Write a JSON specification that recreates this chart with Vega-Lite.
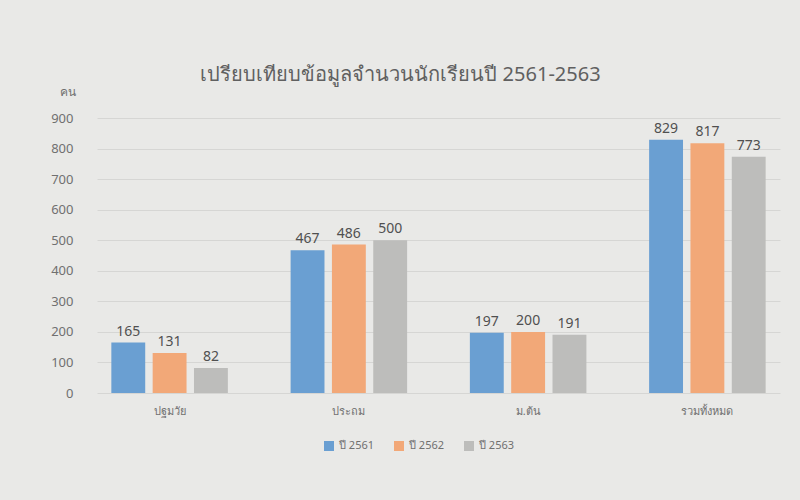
{
  "$schema": "https://vega.github.io/schema/vega-lite/v6.json",
  "width": 683,
  "height": 275,
  "autosize": "none",
  "padding": {"left": 97, "right": 20, "top": 118, "bottom": 107},
  "background": "#e9e9e7",
  "title": {
    "text": "เปรียบเทียบข้อมูลจำนวนนักเรียนปี 2561-2563",
    "font": "Noto Sans",
    "fontSize": 20,
    "fontWeight": "normal",
    "color": "#606060",
    "anchor": "middle",
    "dx": -38,
    "offset": 0
  },
  "config": {
    "view": {"stroke": null},
    "font": "Noto Sans"
  },
  "data": {
    "values": [
      {"level": "ปฐมวัย", "year": "ปี 2561", "count": 165},
      {"level": "ปฐมวัย", "year": "ปี 2562", "count": 131},
      {"level": "ปฐมวัย", "year": "ปี 2563", "count": 82},
      {"level": "ประถม", "year": "ปี 2561", "count": 467},
      {"level": "ประถม", "year": "ปี 2562", "count": 486},
      {"level": "ประถม", "year": "ปี 2563", "count": 500},
      {"level": "ม.ต้น", "year": "ปี 2561", "count": 197},
      {"level": "ม.ต้น", "year": "ปี 2562", "count": 200},
      {"level": "ม.ต้น", "year": "ปี 2563", "count": 191},
      {"level": "รวมทั้งหมด", "year": "ปี 2561", "count": 829},
      {"level": "รวมทั้งหมด", "year": "ปี 2562", "count": 817},
      {"level": "รวมทั้งหมด", "year": "ปี 2563", "count": 773}
    ]
  },
  "encoding": {
    "x": {
      "field": "level",
      "type": "nominal",
      "sort": null,
      "scale": {"paddingInner": 0.35, "paddingOuter": 0.08},
      "axis": {
        "title": null,
        "labelAngle": 0,
        "labelColor": "#707070",
        "labelFontSize": 11,
        "labelPadding": 12,
        "domain": false,
        "ticks": false
      }
    },
    "xOffset": {"field": "year", "type": "nominal", "scale": {"paddingInner": 0.18}},
    "y": {
      "field": "count",
      "type": "quantitative",
      "scale": {"domain": [0, 900]},
      "axis": {
        "title": "คน",
        "titleAngle": 0,
        "titleAlign": "right",
        "titleBaseline": "bottom",
        "titleX": -22,
        "titleY": -20,
        "titleColor": "#707070",
        "titleFontSize": 12,
        "titleFontWeight": "normal",
        "values": [0, 100, 200, 300, 400, 500, 600, 700, 800, 900],
        "labelColor": "#707070",
        "labelFontSize": 13,
        "labelPadding": 24,
        "domain": false,
        "ticks": false,
        "gridColor": "#d6d6d4"
      }
    }
  },
  "layer": [
    {
      "mark": {"type": "bar"},
      "encoding": {
        "color": {
          "field": "year",
          "type": "nominal",
          "scale": {"range": ["#6a9fd2", "#f2a878", "#bdbdbb"]},
          "legend": {
            "orient": "none",
            "legendX": 226,
            "legendY": 322,
            "title": null,
            "direction": "horizontal",
            "symbolType": "square",
            "symbolSize": 100,
            "labelColor": "#707070",
            "labelFontSize": 11,
            "columnPadding": 18
          }
        }
      }
    },
    {
      "mark": {"type": "text", "dy": -11, "fontSize": 14, "color": "#505050"},
      "encoding": {
        "text": {"field": "count", "type": "quantitative"}
      }
    }
  ]
}
